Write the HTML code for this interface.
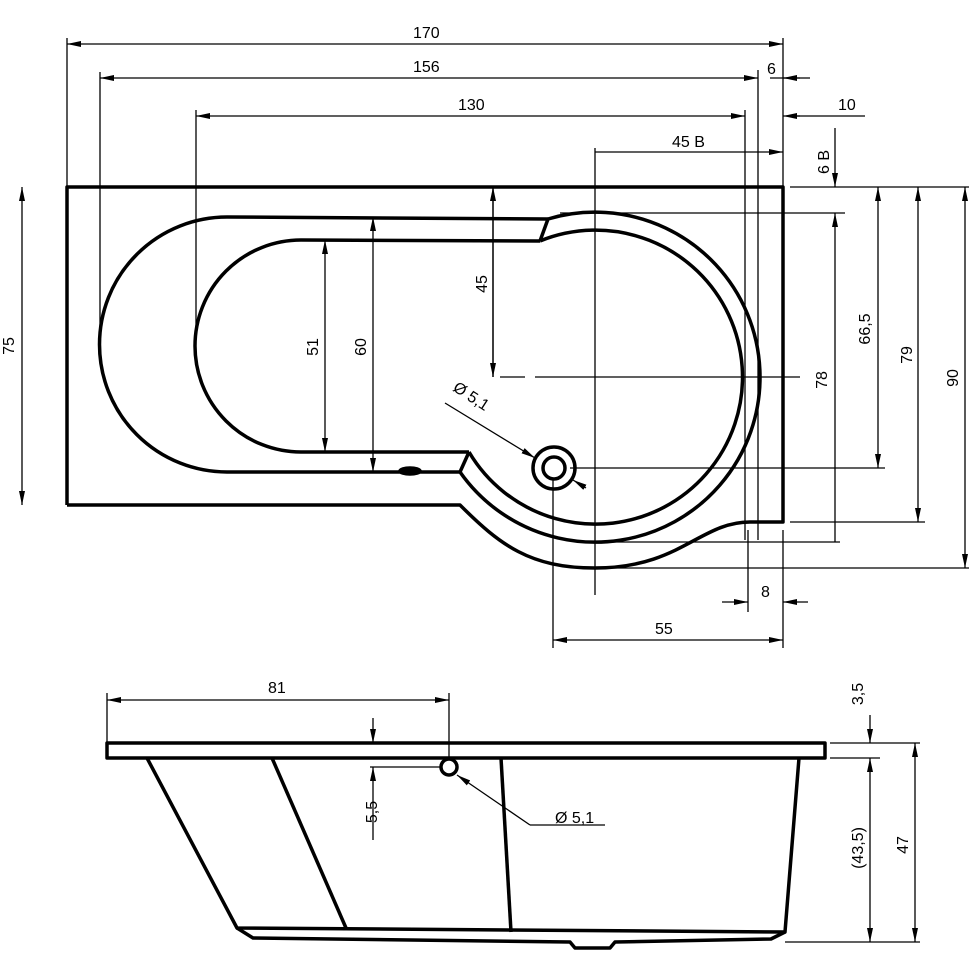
<!DOCTYPE html>
<html><head><meta charset="utf-8"><style>
html,body{margin:0;padding:0;background:#fff;}
svg{display:block;}
text{font-family:"Liberation Sans",Arial,sans-serif;font-size:16px;fill:#000;}
</style></head><body>
<svg width="969" height="970" viewBox="0 0 969 970" xmlns="http://www.w3.org/2000/svg">
<defs>
<marker id="a" markerWidth="14" markerHeight="6" refX="14" refY="3" orient="auto-start-reverse" markerUnits="userSpaceOnUse">
<path d="M0,0 L14,3 L0,6 Z" fill="#000"/></marker>
</defs>
<g fill="none" stroke="#000" stroke-width="3.5" stroke-linejoin="round">
<path d="M67,505 L67,187 L783,187 L783,522 L750,522 C700,522 680,568 595,568 C530,568 500,545 460,505 L67,505"/>
<path d="M548,219 L227,217 A127,127 0 0 0 227,472 L460,472"/>
<path d="M540,241 L301,240 A106,106 0 0 0 301,452 L469,452"/>
<path d="M548,219 A165,165 0 1 1 460,472"/>
<path d="M540,241 A147,147 0 1 1 469,452"/>
<path d="M548,219 L540,241"/>
<path d="M469,452 L460,472"/>
<circle cx="554" cy="468" r="21"/>
<circle cx="554" cy="468" r="11"/>
<ellipse cx="410" cy="471" rx="10" ry="3" fill="#000"/>
<rect x="107" y="743" width="718" height="15"/>
<path d="M147,758 L237,928 L785,932 L799,758"/>
<path d="M272,758 L346,928"/>
<path d="M501,758 L511,932"/>
<path d="M237,928 L253,938 L570,942 L575,948 L610,948 L615,942 L771,939 L785,932"/>
<circle cx="449" cy="767" r="8" stroke-width="3.5"/>
</g>
<g fill="none" stroke="#000" stroke-width="1.3">
<path d="M67,38V187M783,38V187M100,72V350M758,70V540M196,110V340M745,110V540M595,148V595M493,187V377"/>
<path d="M790,187H969M560,213H845M500,377H525M535,377H800M570,468H885M790,522H925M595,542H840M600,568H969"/>
<path d="M748,530V612M783,530V612M553,480V648M783,612V648"/>
<path d="M107,693V743M449,693V760M830,743H920M830,758H880M785,942H920M370,767H440"/>
<path d="M530,825H605"/>
<path d="M810,78H770M865,116H790"/>
<line x1="67" y1="44" x2="783" y2="44" marker-start="url(#a)" marker-end="url(#a)"/>
<line x1="100" y1="78" x2="758" y2="78" marker-start="url(#a)" marker-end="url(#a)"/>
<line x1="800" y1="78" x2="783" y2="78" marker-end="url(#a)"/>
<line x1="196" y1="116" x2="745" y2="116" marker-start="url(#a)" marker-end="url(#a)"/>
<line x1="800" y1="116" x2="783" y2="116" marker-end="url(#a)"/>
<line x1="595" y1="152" x2="783" y2="152" marker-end="url(#a)"/>
<line x1="835" y1="128" x2="835" y2="187" marker-end="url(#a)"/>
<line x1="835" y1="542" x2="835" y2="213" marker-end="url(#a)"/>
<line x1="22" y1="187" x2="22" y2="505" marker-start="url(#a)" marker-end="url(#a)"/>
<line x1="878" y1="187" x2="878" y2="468" marker-start="url(#a)" marker-end="url(#a)"/>
<line x1="918" y1="187" x2="918" y2="522" marker-start="url(#a)" marker-end="url(#a)"/>
<line x1="965" y1="187" x2="965" y2="568" marker-start="url(#a)" marker-end="url(#a)"/>
<line x1="325" y1="240" x2="325" y2="452" marker-start="url(#a)" marker-end="url(#a)"/>
<line x1="373" y1="217" x2="373" y2="472" marker-start="url(#a)" marker-end="url(#a)"/>
<line x1="493" y1="187" x2="493" y2="377" marker-start="url(#a)" marker-end="url(#a)"/>
<line x1="445" y1="403" x2="535" y2="458" marker-end="url(#a)"/>
<line x1="586" y1="488" x2="573" y2="480" marker-end="url(#a)"/>
<line x1="722" y1="602" x2="748" y2="602" marker-end="url(#a)"/>
<line x1="808" y1="602" x2="783" y2="602" marker-end="url(#a)"/>
<line x1="553" y1="640" x2="783" y2="640" marker-start="url(#a)" marker-end="url(#a)"/>
<line x1="107" y1="700" x2="449" y2="700" marker-start="url(#a)" marker-end="url(#a)"/>
<line x1="373" y1="718" x2="373" y2="743" marker-end="url(#a)"/>
<line x1="373" y1="840" x2="373" y2="767" marker-end="url(#a)"/>
<line x1="530" y1="825" x2="457" y2="775" marker-end="url(#a)"/>
<line x1="870" y1="715" x2="870" y2="743" marker-end="url(#a)"/>
<line x1="870" y1="758" x2="870" y2="942" marker-start="url(#a)" marker-end="url(#a)"/>
<line x1="915" y1="743" x2="915" y2="942" marker-start="url(#a)" marker-end="url(#a)"/>
</g>
<g>
<text x="413" y="38">170</text>
<text x="413" y="72">156</text>
<text x="767" y="74">6</text>
<text x="838" y="110">10</text>
<text x="458" y="110">130</text>
<text x="672" y="147">45 B</text>
<text x="761" y="597">8</text>
<text x="655" y="634">55</text>
<text x="268" y="693">81</text>
<text x="555" y="823">Ø 5,1</text>
<text transform="translate(14,346) rotate(-90)" text-anchor="middle">75</text>
<text transform="translate(318,347) rotate(-90)" text-anchor="middle">51</text>
<text transform="translate(366,347) rotate(-90)" text-anchor="middle">60</text>
<text transform="translate(487,284) rotate(-90)" text-anchor="middle">45</text>
<text transform="translate(829,162) rotate(-90)" text-anchor="middle">6 B</text>
<text transform="translate(827,380) rotate(-90)" text-anchor="middle">78</text>
<text transform="translate(870,329) rotate(-90)" text-anchor="middle">66,5</text>
<text transform="translate(912,355) rotate(-90)" text-anchor="middle">79</text>
<text transform="translate(958,378) rotate(-90)" text-anchor="middle">90</text>
<text transform="translate(452,390) rotate(33)">Ø 5,1</text>
<text transform="translate(377,812) rotate(-90)" text-anchor="middle">5,5</text>
<text transform="translate(863,694) rotate(-90)" text-anchor="middle">3,5</text>
<text transform="translate(863,848) rotate(-90)" text-anchor="middle">(43,5)</text>
<text transform="translate(908,845) rotate(-90)" text-anchor="middle">47</text>
</g>
</svg>
</body></html>
